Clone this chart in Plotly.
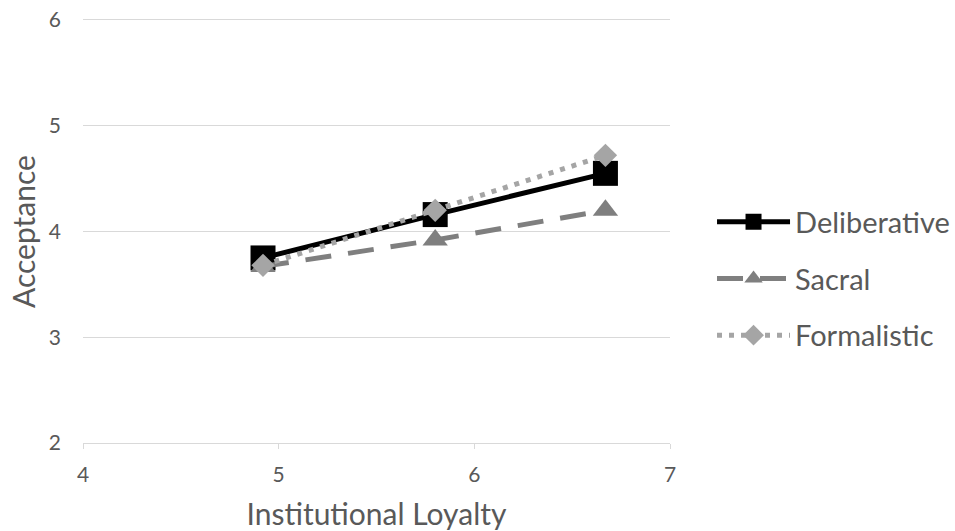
import plotly.graph_objects as go

loyalty_delib = [4.92, 5.80, 6.67]
delib = [3.75, 4.16, 4.55]
loyalty_sacral = [4.92, 5.80, 6.67]
sacral = [3.67, 3.92, 4.20]
loyalty_formal = [4.92, 5.80, 6.67]
formal = [3.68, 4.20, 4.72]

x_ticks = [4, 5, 6, 7]
y_ticks = [2, 3, 4, 5, 6]

FONT = "Lato, Open Sans, sans-serif"
fig = go.Figure()
fig.add_trace(go.Scatter(x=loyalty_delib, y=delib, name="Deliberative", mode="lines+markers",
                         legendgroup="a",
                         line=dict(color="black", width=5),
                         marker=dict(symbol="square", size=25, color="black")))
fig.add_trace(go.Scatter(x=loyalty_sacral, y=sacral, name="Sacral", mode="lines+markers",
                         legendgroup="b",
                         line=dict(color="#7f7f7f", width=5, dash="26px,17px"),
                         marker=dict(symbol="triangle-up", size=22, color="#7f7f7f")))
fig.add_trace(go.Scatter(x=loyalty_formal, y=formal, name="Formalistic", mode="lines+markers",
                         legendgroup="c",
                         line=dict(color="#a5a5a5", width=5, dash="5px,7px"),
                         marker=dict(symbol="diamond", size=18, color="#a5a5a5")))

fig.update_layout(
    width=955, height=531,
    margin=dict(l=83, r=285, t=20, b=88, autoexpand=False),
    paper_bgcolor="white", plot_bgcolor="white",
    font=dict(family=FONT, color="#595959"),
    showlegend=True,
    legend=dict(x=1.0716, y=0.388, xanchor="left", yanchor="middle",
                font=dict(size=29, color="#595959", family=FONT),
                itemwidth=73, tracegroupgap=16, traceorder="grouped"),
    xaxis=dict(range=[4, 7], tickvals=x_ticks, showgrid=False,
               showline=True, mirror=True, linecolor="#d9d9d9", linewidth=1,
               ticks="outside", ticklen=5, tickcolor="#d9d9d9",
               ticklabelstandoff=8,
               tickfont=dict(size=21, color="#595959"),
               title=dict(text="Institutional Loyalty", font=dict(size=30, color="#595959"), standoff=19),
               zeroline=False, automargin=False),
    yaxis=dict(range=[2, 6], tickvals=y_ticks, showgrid=True, gridcolor="#d9d9d9",
               showline=False, ticks="", ticklabelstandoff=21, ticklabeloverflow="allow",
               tickfont=dict(size=21, color="#595959"),
               title=dict(text="Acceptance", font=dict(size=30, color="#595959"), standoff=4),
               zeroline=False, automargin=False),
)
fig.write_html("out.html", config={"displayModeBar": False},
               post_script="document.body.style.margin='0';")
